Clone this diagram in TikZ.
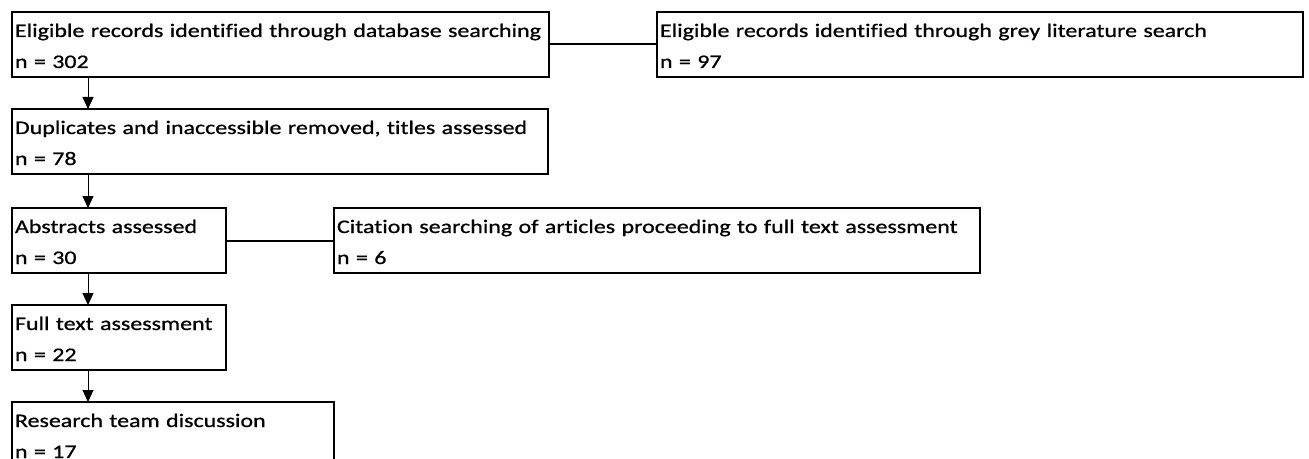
\documentclass[tikz,border=0pt]{standalone}
\usepackage{fontspec}
\setmainfont{Carlito}[FakeStretch=1.25, FakeBold=0.8, Ligatures=NoCommon]
\usepackage{tikz}
\usetikzlibrary{arrows.meta, positioning}
\newlength{\pxu}
\setlength{\pxu}{0.6pt}
\newcommand{\twoline}[2]{\rule{0pt}{25\pxu}#1\\#2\rule[-9\pxu]{0pt}{9\pxu}}

\begin{document}
\begin{tikzpicture}[
    >={Triangle[length=7.2pt, width=6.6pt]},
    node distance=19.2pt and 64.8pt,
    every node/.style={font=\fontsize{11.5pt}{18.6pt}\selectfont},
    recbox/.style={
      rectangle, draw=black, line width=1.2pt,
      inner xsep=1.8pt, inner ysep=0pt, outer sep=0pt,
      text width=#1, align=left
    },
    arrow/.style={->, line width=0.6pt, draw=black},
    link/.style={line width=1.2pt, draw=black}
  ]

  \useasboundingbox (0,0) rectangle (785.4pt,-275.4pt);

  % ===== top row =====
  \node[recbox=318.6pt, anchor=north west] (dbsearch) at (7.2pt,-7.2pt)
    {\twoline{Eligible records identified through database searching}{n = 302}};
  \node[recbox=384pt, right=of dbsearch] (greysearch)
    {\twoline{Eligible records identified through grey literature search}{n = 97}};

  \draw[link] (dbsearch) -- (greysearch);

  % ===== screening =====
  \node[recbox=318pt, below right=19.2pt and 0pt of dbsearch.south west] (dedup)
    {\twoline{Duplicates and inaccessible removed, titles assessed}{n = 78}};
  \node[recbox=124.8pt, below right=20.4pt and 0pt of dedup.south west] (abstracts)
    {\twoline{Abstracts assessed}{n = 30}};
  \node[recbox=384pt, right=of abstracts] (citation)
    {\twoline{Citation searching of articles proceeding to full text assessment}{n = 6}};

  \draw[link] (abstracts) -- (citation);

  % ===== final steps =====
  \node[recbox=124.8pt, below right=19.2pt and 0pt of abstracts.south west] (fulltext)
    {\twoline{Full text assessment}{n = 22}};
  \node[recbox=189.6pt, below right=19.2pt and 0pt of fulltext.south west] (teamtalk)
    {\twoline{Research team discussion}{n = 17}};

  \draw[arrow] ([xshift=45.6pt]dbsearch.south west) -- ([xshift=45.6pt]dedup.north west);
  \draw[arrow] ([xshift=45.6pt]dedup.south west) -- ([xshift=45.6pt]abstracts.north west);
  \draw[arrow] ([xshift=45.6pt]abstracts.south west) -- ([xshift=45.6pt]fulltext.north west);
  \draw[arrow] ([xshift=45.6pt]fulltext.south west) -- ([xshift=45.6pt]teamtalk.north west);

\end{tikzpicture}
\end{document}
